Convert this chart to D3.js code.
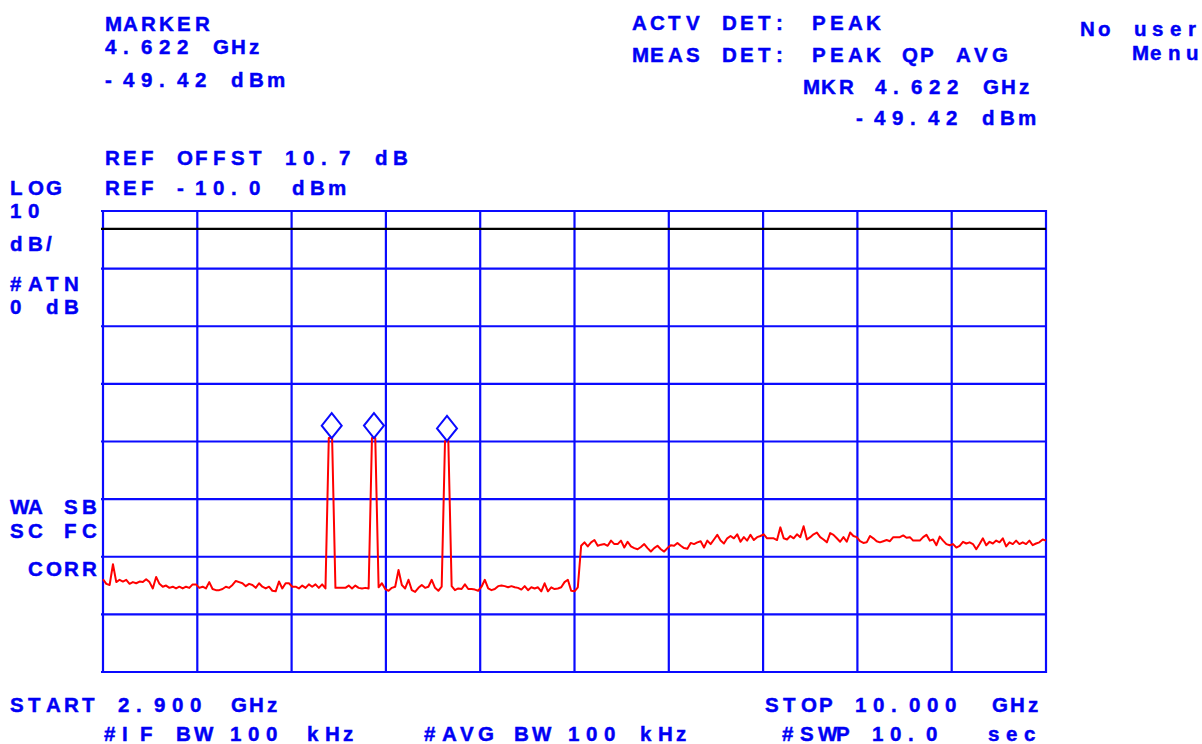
<!DOCTYPE html>
<meta charset="utf-8">
<script src="https://d3js.org/d3.v7.min.js"></script>
<head>
    <title>Spectrum 2.9 - 10 GHz</title>
    <style>
        body { margin: 0; background: #fff; }
        svg text {
            font-family: "Liberation Sans", Arial, sans-serif;
            font-weight: bold;
            font-size: 20.5px;
            fill: #0000f5;
            stroke: #0000f5;
            stroke-width: 0.45px;
            white-space: pre;
        }
    </style>
</head>
<body>
    <div id="screen"></div>
<script>
    // sweep settings
    const startGHz = 2.9, stopGHz = 10.0;
    const refDbm = -10, dbPerDiv = 10, yDivs = 8, xDivs = 10;
    const displayLineDbm = -13.1;

    // trace, 285 points evenly spaced from start to stop (dBm)
    const traceDbm = [
        -73.9, -74.7, -74.9, -71.3, -74.4, -74.0, -74.3, -74.0, -74.7, -74.4,
        -74.6, -74.3, -74.4, -73.9, -74.4, -75.5, -73.5, -74.7, -75.2, -75.0,
        -75.4, -75.2, -75.5, -75.2, -75.5, -75.2, -75.4, -74.8, -74.8, -75.4,
        -75.2, -75.5, -74.4, -75.6, -75.8, -75.8, -75.6, -75.2, -75.4, -74.9,
        -74.2, -74.4, -74.6, -75.1, -74.7, -74.9, -75.4, -74.6, -75.2, -75.5,
        -75.2, -75.9, -76.0, -74.3, -75.5, -74.6, -74.6, -75.2, -75.2, -75.5,
        -75.0, -75.4, -74.8, -75.2, -74.8, -75.4, -74.8, -75.5, -49.4, -49.4,
        -75.4, -75.4, -75.4, -75.4, -75.0, -75.5, -75.0, -75.4, -75.5, -75.4,
        -75.5, -49.4, -49.4, -75.3, -74.6, -75.6, -75.9, -75.4, -75.2, -72.3,
        -74.9, -75.5, -74.0, -75.8, -76.1, -75.4, -74.9, -75.4, -75.2, -74.0,
        -75.4, -75.9, -75.2, -49.9, -49.9, -75.1, -75.8, -75.5, -75.6, -74.8,
        -75.6, -75.6, -75.7, -75.9, -75.2, -74.0, -75.5, -75.8, -75.6, -75.1,
        -75.0, -75.1, -75.3, -75.1, -75.3, -75.4, -75.7, -75.1, -75.8, -75.3,
        -75.5, -75.3, -76.0, -74.6, -76.0, -75.3, -75.6, -75.5, -75.3, -74.4,
        -74.0, -75.9, -76.0, -75.3,
        -68.1, -67.5, -68.2, -67.5, -67.1, -68.1,
        -67.9, -67.8, -68.1, -67.2, -67.8, -67.8, -67.2, -68.4, -67.4, -68.2,
        -68.5, -68.7, -68.3, -67.8, -68.5, -69.1, -68.5, -68.1, -68.7, -69.1,
        -68.5, -68.0, -68.1, -67.6, -68.1, -68.5, -68.6, -67.6, -67.8, -67.5,
        -67.3, -68.4, -67.2, -67.8, -67.0, -66.2, -67.2, -67.7, -66.8, -66.4,
        -66.8, -66.1, -67.4, -66.6, -67.2, -66.2, -67.1, -66.6, -66.4, -66.1,
        -66.8, -66.8, -66.8, -67.1, -64.9, -66.8, -67.0, -66.4, -66.8, -66.1,
        -66.6, -64.7, -67.0, -66.6, -66.1, -65.8, -66.6, -67.0, -67.5, -65.9,
        -66.2, -66.8, -67.4, -66.6, -67.4, -65.8, -66.4, -66.6, -67.3, -67.6,
        -67.5, -66.4, -66.8, -67.3, -67.5, -67.3, -67.1, -67.3, -66.6, -66.6,
        -66.6, -66.3, -66.7, -66.6, -67.2, -67.2, -67.2, -66.6, -66.2, -67.2,
        -67.0, -68.0, -66.5, -67.2, -67.8, -68.0, -67.8, -68.4, -68.1, -67.4,
        -67.7, -67.5, -67.8, -68.7, -67.8, -66.8, -68.0, -67.4, -67.7, -67.2,
        -67.5, -66.8, -68.2, -67.5, -67.8, -67.2, -67.8, -67.5, -67.8, -67.2,
        -68.0, -67.7, -67.5, -67.0, -67.2
    ];

    // peak markers
    const markerGHz = [4.622, 4.940, 5.490];
    const markerDbm = [-49.42, -49.4, -49.9];

    // annotation texts: [text, x, baseline]
    const labels = [
        ["MARKER", 105, 31],
        ["4.622 GHz", 105, 54],
        ["-49.42 dBm", 105, 87],
        ["ACTV DET: PEAK", 632, 30],
        ["MEAS DET: PEAK QP AVG", 632, 62],
        ["MKR 4.622 GHz", 803, 94],
        ["-49.42 dBm", 856, 125],
        ["No user", 1080, 36],
        ["Menu", 1132, 60],
        ["REF OFFST 10.7 dB", 105, 165],
        ["REF -10.0", 105, 195],
        ["dBm", 292, 195],
        ["LOG", 10, 195],
        ["10", 10, 218],
        ["dB/", 10, 251],
        ["#ATN", 10, 291],
        ["0", 10, 314],
        ["dB", 46, 314],
        ["WA SB", 10, 514],
        ["SC FC", 10, 538],
        ["CORR", 28, 576],
        ["START 2.900", 10, 712],
        ["GHz", 231, 712],
        ["STOP 10.000", 765, 712],
        ["GHz", 992, 712],
        ["#IF BW 100", 104, 741],
        ["kHz", 307, 741],
        ["#AVG BW 100 kHz", 424, 741],
        ["#SWP 10.0", 782, 741],
        ["sec", 988, 741]
    ];

    const pitch = 18;
    const margin = {top: 211, right: 156, bottom: 72, left: 103},
          width = 1202 - margin.left - margin.right,
          height = 744 - margin.top - margin.bottom;

    const root = d3.select("#screen")
        .append("svg")
        .attr("width", 1202)
        .attr("height", 744);

    const svg = root.append("g")
        .attr("transform", `translate(${margin.left}, ${margin.top})`);

    const x = d3.scaleLinear()
        .domain([startGHz, stopGHz])
        .range([0, width]);

    const y = d3.scaleLinear()
        .domain([refDbm, refDbm - yDivs * dbPerDiv])
        .range([0, height]);

    const freqOf = d3.scaleLinear()
        .domain([0, traceDbm.length - 1])
        .range([startGHz, stopGHz]);

    const blue = "#0a0aff";

    // graticule
    const vLines = d3.range(xDivs + 1).map(k => startGHz + k * (stopGHz - startGHz) / xDivs);
    const hLines = d3.range(yDivs + 1).map(k => refDbm - k * dbPerDiv);

    svg.append("g")
        .selectAll("line")
        .data(hLines)
        .join("line")
            .attr("x1", -2)
            .attr("x2", width + 1)
            .attr("y1", d => y(d))
            .attr("y2", d => y(d))
            .style("stroke", blue)
            .style("stroke-width", 2.2);

    svg.append("g")
        .selectAll("line")
        .data(vLines)
        .join("line")
            .attr("x1", d => x(d))
            .attr("x2", d => x(d))
            .attr("y1", -1)
            .attr("y2", height + 1)
            .style("stroke", blue)
            .style("stroke-width", 2.2);

    // display line
    svg.append("line")
        .attr("x1", -2)
        .attr("x2", width)
        .attr("y1", y(displayLineDbm))
        .attr("y2", y(displayLineDbm))
        .style("stroke", "#000")
        .style("stroke-width", 2.2);

    // trace
    const line = d3.line()
        .x((d, i) => x(freqOf(i)))
        .y(d => y(d));

    svg.append("path")
        .datum(traceDbm)
        .attr("d", line)
        .attr("fill", "none")
        .attr("stroke", "#ff0000")
        .attr("stroke-width", 2)
        .attr("stroke-linejoin", "round");

    // marker diamonds sitting on top of the peaks
    const dw = 10, dh = 12.5;
    svg.append("g")
        .selectAll("path")
        .data(markerGHz.map((f, i) => [f, markerDbm[i]]))
        .join("path")
            .attr("d", d => {
                const cx = x(d[0]), by = y(d[1]);
                return `M${cx},${by} L${cx + dw},${by - dh} L${cx},${by - 2 * dh} L${cx - dw},${by - dh} Z`;
            })
            .attr("fill", "#fff")
            .attr("stroke", blue)
            .attr("stroke-width", 2);

    // texts, fixed character cells like the instrument's plotter font
    root.append("g")
        .selectAll("text")
        .data(labels)
        .join("text")
            .attr("x", d => Array.from(d[0], (c, i) => (d[1] + i * pitch).toFixed(1)).join(" "))
            .attr("y", d => d[2])
            .text(d => d[0]);
</script>
</body>
